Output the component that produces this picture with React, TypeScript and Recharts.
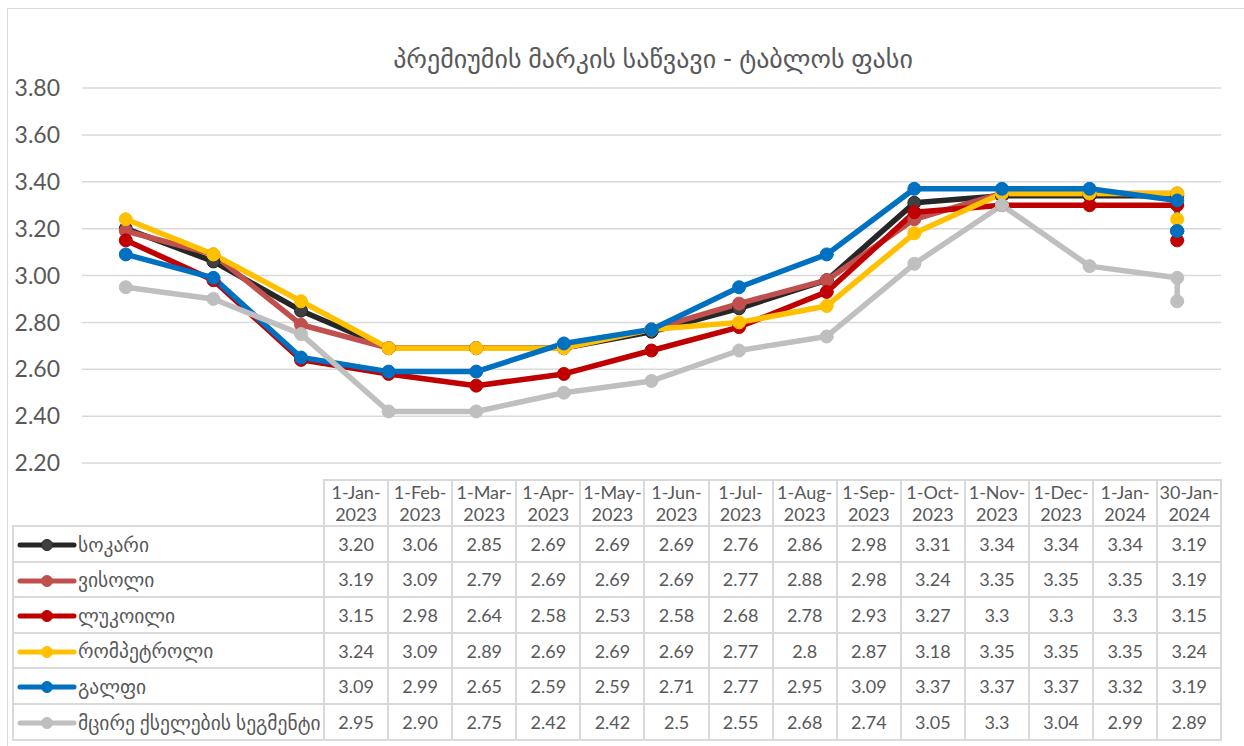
import React from 'react';
import { LineChart, Line, XAxis, YAxis, CartesianGrid } from 'recharts';

// dates on the (monthly) date axis; the last two fall in the same month
const dates = [
  '1-Jan-2023', '1-Feb-2023', '1-Mar-2023', '1-Apr-2023', '1-May-2023', '1-Jun-2023', '1-Jul-2023',
  '1-Aug-2023', '1-Sep-2023', '1-Oct-2023', '1-Nov-2023', '1-Dec-2023', '1-Jan-2024', '30-Jan-2024',
];

// values as shown in the data table
const sokari = ['3.20', '3.06', '2.85', '2.69', '2.69', '2.69', '2.76', '2.86', '2.98', '3.31', '3.34', '3.34', '3.34', '3.19'];
const visoli = ['3.19', '3.09', '2.79', '2.69', '2.69', '2.69', '2.77', '2.88', '2.98', '3.24', '3.35', '3.35', '3.35', '3.19'];
const lukoili = ['3.15', '2.98', '2.64', '2.58', '2.53', '2.58', '2.68', '2.78', '2.93', '3.27', '3.3', '3.3', '3.3', '3.15'];
const rompetroli = ['3.24', '3.09', '2.89', '2.69', '2.69', '2.69', '2.77', '2.8', '2.87', '3.18', '3.35', '3.35', '3.35', '3.24'];
const galfi = ['3.09', '2.99', '2.65', '2.59', '2.59', '2.71', '2.77', '2.95', '3.09', '3.37', '3.37', '3.37', '3.32', '3.19'];
const smallNet = ['2.95', '2.90', '2.75', '2.42', '2.42', '2.5', '2.55', '2.68', '2.74', '3.05', '3.3', '3.04', '2.99', '2.89'];

const yTicks = [2.2, 2.4, 2.6, 2.8, 3.0, 3.2, 3.4, 3.6, 3.8];

const title = 'პრემიუმის მარკის საწვავი - ტაბლოს ფასი';

const series = [
  { key: 'sokari', name: 'სოკარი', values: sokari, color: '#262626', dot: '#404040' },
  { key: 'visoli', name: 'ვისოლი', values: visoli, color: '#C0504D', dot: '#C0504D' },
  { key: 'lukoili', name: 'ლუკოილი', values: lukoili, color: '#C00000', dot: '#C00000' },
  { key: 'rompetroli', name: 'რომპეტროლი', values: rompetroli, color: '#FFC000', dot: '#FFC000' },
  { key: 'galfi', name: 'გალფი', values: galfi, color: '#0070C0', dot: '#0070C0' },
  { key: 'small', name: 'მცირე ქსელების სეგმენტი', values: smallNet, color: '#BFBFBF', dot: '#BFBFBF' },
];

const MONTHS = ['Jan', 'Feb', 'Mar', 'Apr', 'May', 'Jun', 'Jul', 'Aug', 'Sep', 'Oct', 'Nov', 'Dec'];

// month offset from the first date -> position on the axis
const monthPos = (d: string) => {
  const [, m, y] = d.split('-');
  return (Number(y) - 2023) * 12 + MONTHS.indexOf(m);
};

const data = dates.map((d, i) => {
  const row: Record<string, number | string> = { date: d, x: monthPos(d) };
  series.forEach((s) => {
    row[s.key] = parseFloat(s.values[i]);
  });
  return row;
});

const FONT = "Lato, 'DejaVu Sans', sans-serif";
const GRID = '#D9D9D9';
const TEXT = '#595959';

const cellBorder = `2px solid ${GRID}`;

const LegendKey = ({ color, dot }: { color: string; dot: string }) => (
  <svg width={60} height={14} style={{ verticalAlign: 'middle', marginRight: 1 }}>
    <line x1={3} y1={7} x2={57} y2={7} stroke={color} strokeWidth={5} strokeLinecap="round" />
    <circle cx={30} cy={7} r={5.5} fill={dot} stroke={color} strokeWidth={1} />
  </svg>
);

const DataTable = () => (
  <table
    style={{
      position: 'absolute',
      left: 4,
      top: 470,
      borderCollapse: 'collapse',
      tableLayout: 'fixed',
      width: 1209,
      fontFamily: FONT,
      color: TEXT,
      fontSize: 18,
    }}
  >
    <colgroup>
      <col style={{ width: 311 }} />
      {dates.map((d) => (
        <col key={d} style={{ width: 64.1 }} />
      ))}
    </colgroup>
    <tbody>
      <tr style={{ height: 46 }}>
        <td style={{ border: 'none', padding: 0 }} />
        {dates.map((d) => {
          const parts = d.split('-');
          return (
            <td key={d} style={{ border: cellBorder, textAlign: 'center', padding: 0, lineHeight: '22px' }}>
              {parts[0]}-{parts[1]}-
              <br />
              {parts[2]}
            </td>
          );
        })}
      </tr>
      {series.map((s) => (
        <tr key={s.key} style={{ height: 35.6 }}>
          <td style={{ border: cellBorder, padding: '0 0 0 3px', whiteSpace: 'nowrap', lineHeight: '20px' }}>
            <LegendKey color={s.color} dot={s.dot} />
            <span style={{ verticalAlign: 'middle', fontSize: 19.5 }}>{s.name}</span>
          </td>
          {s.values.map((v, i) => (
            <td key={i} style={{ border: cellBorder, textAlign: 'center', padding: 0, lineHeight: '20px' }}>
              {v}
            </td>
          ))}
        </tr>
      ))}
    </tbody>
  </table>
);

const App = () => {
  return (
    <div
      style={{
        position: 'absolute',
        left: 7,
        top: 8,
        width: 1260,
        height: 760,
        border: `1px solid ${GRID}`,
        background: '#fff',
        overflow: 'hidden',
      }}
    >
      <div
        style={{
          position: 'absolute',
          left: 0,
          width: 1290,
          top: 33,
          textAlign: 'center',
          fontFamily: FONT,
          fontSize: 26,
          color: TEXT,
        }}
      >
        {title}
      </div>
      <LineChart width={1236} height={737} data={data} margin={{ top: 79, right: 23, left: 0, bottom: 283 }}>
        <CartesianGrid vertical={false} stroke={GRID} strokeWidth={1.5} />
        <XAxis dataKey="x" type="number" domain={[-0.5, 12.5]} hide />
        <YAxis
          width={74}
          domain={[2.2, 3.8]}
          ticks={yTicks}
          interval={0}
          axisLine={false}
          tickLine={false}
          tickMargin={16}
          tickFormatter={(v: number) => v.toFixed(2)}
          tick={{ fontSize: 23, fill: TEXT, fontFamily: FONT }}
        />
        {series.map((s) => (
          <Line
            key={s.key}
            type="linear"
            dataKey={s.key}
            name={s.name}
            stroke={s.color}
            strokeWidth={5.5}
            strokeLinejoin="round"
            strokeLinecap="round"
            dot={{ r: 6.5, fill: s.dot, stroke: s.color, strokeWidth: 1 }}
            isAnimationActive={false}
          />
        ))}
      </LineChart>
      <DataTable />
    </div>
  );
};

export default App;
